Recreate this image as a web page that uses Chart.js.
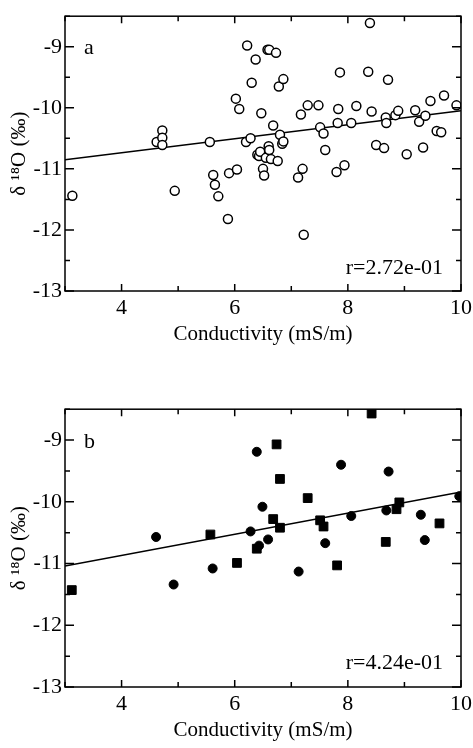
<!DOCTYPE html>
<html>
<head>
<meta charset="utf-8">
<script src="https://cdn.jsdelivr.net/npm/chart.js@4.4.1/dist/chart.umd.min.js"></script>
<style>
  body { margin: 0; background: #fff; }
  .panel { position: absolute; left: 0; width: 473px; }
  #panel-a { top: 0; height: 347px; }
  #panel-b { top: 393px; height: 350px; }
</style>
</head>
<body>
<div class="panel" id="panel-a"><canvas id="chart-a" width="473" height="347"></canvas></div>
<div class="panel" id="panel-b"><canvas id="chart-b" width="473" height="350"></canvas></div>
<script>
// panel a: all samples (open circles)
const aX = [3.13, 4.62, 4.72, 4.72, 4.72, 4.94, 5.56, 5.62, 5.65, 5.71, 5.88, 5.90, 6.02, 6.04, 6.08,
    6.20, 6.22, 6.28, 6.30, 6.37, 6.40, 6.43, 6.45, 6.47, 6.50, 6.52, 6.55, 6.58, 6.61, 6.60,
    6.61, 6.64, 6.68, 6.73, 6.76, 6.78, 6.80, 6.84, 6.86, 6.86, 7.12, 7.17, 7.20, 7.22, 7.29,
    7.48, 7.51, 7.57, 7.60, 7.80, 7.82, 7.83, 7.86, 7.94, 8.06, 8.15, 8.36, 8.39, 8.42, 8.50,
    8.64, 8.67, 8.68, 8.71, 8.84, 8.89, 9.04, 9.19, 9.26, 9.33, 9.37, 9.46, 9.57, 9.65, 9.70, 9.92];
const aY = [-11.44, -10.56, -10.37, -10.49, -10.61, -11.36, -10.56, -11.10, -11.26, -11.45, -11.82, -11.07, -9.85, -11.01, -10.02,
    -10.56, -8.98, -10.50, -9.59, -9.21, -10.77, -10.79, -10.72, -10.09, -11.00, -11.11, -10.82, -9.05, -9.05, -10.63,
    -10.69, -10.84, -10.29, -9.10, -10.87, -9.65, -10.44, -10.59, -9.53, -10.55, -11.14, -10.11, -11.00, -12.08, -9.96,
    -9.96, -10.32, -10.42, -10.69, -11.05, -10.25, -10.02, -9.42, -10.94, -10.25, -9.97, -9.41, -8.61, -10.06, -10.61,
    -10.66, -10.16, -10.25, -9.54, -10.12, -10.05, -10.76, -10.04, -10.23, -10.65, -10.13, -9.89, -10.38, -10.40, -9.80, -9.96];
const aFitX = [3, 10];
const aFitY = [-10.85, -10.05];
const aR = 'r=2.72e-01';

// panel b: filled circles and filled squares
const bCircX = [4.61, 4.92, 5.61, 6.28, 6.39, 6.43, 6.49, 6.59, 7.13, 7.60, 7.88, 8.06, 8.68, 8.72, 9.29, 9.36, 9.97];
const bCircY = [-10.57, -11.34, -11.08, -10.48, -9.19, -10.71, -10.08, -10.61, -11.13, -10.67, -9.40, -10.23, -10.14, -9.51, -10.21, -10.62, -9.91];
const bSqX = [3.12, 5.57, 6.04, 6.39, 6.68, 6.74, 6.80, 6.80, 7.29, 7.51, 7.57, 7.81, 8.42, 8.67, 8.86, 8.91, 9.62];
const bSqY = [-11.43, -10.53, -10.99, -10.76, -10.28, -9.07, -9.63, -10.42, -9.94, -10.30, -10.40, -11.03, -8.57, -10.65, -10.12, -10.01, -10.35];
const bFitX = [3, 10];
const bFitY = [-11.04, -9.84];
const bR = 'r=4.24e-01';

const serif = '"Liberation Serif", "DejaVu Serif", serif';

function pts(xs, ys) {
    return xs.map((x, i) => ({ x: x, y: ys[i] }));
}

// frame, inward ticks on all four sides, panel letter and r value
function framePlugin(letter, rText) {
    return {
        id: 'frame',
        afterDraw(chart) {
            const ctx = chart.ctx;
            const a = chart.chartArea;
            const xs = chart.scales.x;
            const ys = chart.scales.y;
            ctx.save();
            ctx.strokeStyle = '#000';
            ctx.lineWidth = 1.5;
            ctx.strokeRect(a.left, a.top, a.right - a.left, a.bottom - a.top);
            ctx.beginPath();
            for (let v = 3; v <= 10; v++) {
                const px = xs.getPixelForValue(v);
                const len = v % 2 === 0 ? 7 : 5;
                ctx.moveTo(px, a.bottom); ctx.lineTo(px, a.bottom - len);
                ctx.moveTo(px, a.top); ctx.lineTo(px, a.top + len);
            }
            for (let v = -13; v <= -8.5; v += 0.5) {
                const py = ys.getPixelForValue(v);
                const len = Number.isInteger(v) ? 9 : 5;
                ctx.moveTo(a.left, py); ctx.lineTo(a.left + len, py);
                ctx.moveTo(a.right, py); ctx.lineTo(a.right - len, py);
            }
            ctx.stroke();
            ctx.fillStyle = '#000';
            ctx.font = '22px ' + serif;
            ctx.textBaseline = 'middle';
            ctx.textAlign = 'left';
            ctx.fillText(letter, a.left + 19, ys.getPixelForValue(-9.03));
            ctx.textAlign = 'right';
            ctx.fillText(rText, a.right - 18, ys.getPixelForValue(-12.62));
            ctx.restore();
        }
    };
}

function makeChart(id, datasets, letter, rText) {
    return new Chart(document.getElementById(id), {
        type: 'scatter',
        data: { datasets: datasets },
        options: {
            responsive: false,
            animation: false,
            devicePixelRatio: 1,
            layout: { padding: { top: 9, right: 12, left: 0, bottom: 0 } },
            plugins: { legend: { display: false }, tooltip: { enabled: false } },
            scales: {
                x: {
                    type: 'linear', min: 3, max: 10,
                    grid: { display: false, drawTicks: false },
                    border: { display: false },
                    afterFit: (s) => { s.height = 56; s.paddingLeft = 0; s.paddingRight = 0; },
                    ticks: {
                        stepSize: 1, padding: 4, color: '#000', maxRotation: 0,
                        font: { family: serif, size: 22 },
                        callback: (v) => (v % 2 === 0 ? String(v) : '')
                    },
                    title: {
                        display: true, text: 'Conductivity (mS/m)', color: '#000',
                        padding: 0, font: { family: serif, size: 21 }
                    }
                },
                y: {
                    type: 'linear', min: -13, max: -8.5,
                    grid: { display: false, drawTicks: false },
                    border: { display: false },
                    afterFit: (s) => { s.width = 65; },
                    ticks: {
                        stepSize: 0.5, padding: 3, color: '#000',
                        font: { family: serif, size: 22 },
                        callback: (v) => (Number.isInteger(v) ? String(v) : '')
                    },
                    title: {
                        display: true, text: 'δ ¹⁸O (‰)', color: '#000',
                        padding: 7, font: { family: serif, size: 21 }
                    }
                }
            }
        },
        plugins: [framePlugin(letter, rText)]
    });
}

makeChart('chart-a', [
    {
        data: pts(aX, aY), pointStyle: 'circle', pointRadius: 4.5,
        backgroundColor: '#fff', borderColor: '#000', borderWidth: 1.5, order: 0
    },
    {
        type: 'line', data: pts(aFitX, aFitY), borderColor: '#000', borderWidth: 1.5,
        pointRadius: 0, fill: false, order: 1
    }
], 'a', aR);

makeChart('chart-b', [
    {
        data: pts(bCircX, bCircY), pointStyle: 'circle', pointRadius: 4.5,
        backgroundColor: '#000', borderColor: '#000', borderWidth: 1, order: 0
    },
    {
        data: pts(bSqX, bSqY), pointStyle: 'rect', pointRadius: 6.2,
        backgroundColor: '#000', borderColor: '#000', borderWidth: 1, order: 0
    },
    {
        type: 'line', data: pts(bFitX, bFitY), borderColor: '#000', borderWidth: 1.5,
        pointRadius: 0, fill: false, order: 1
    }
], 'b', bR);
</script>
</body>
</html>
